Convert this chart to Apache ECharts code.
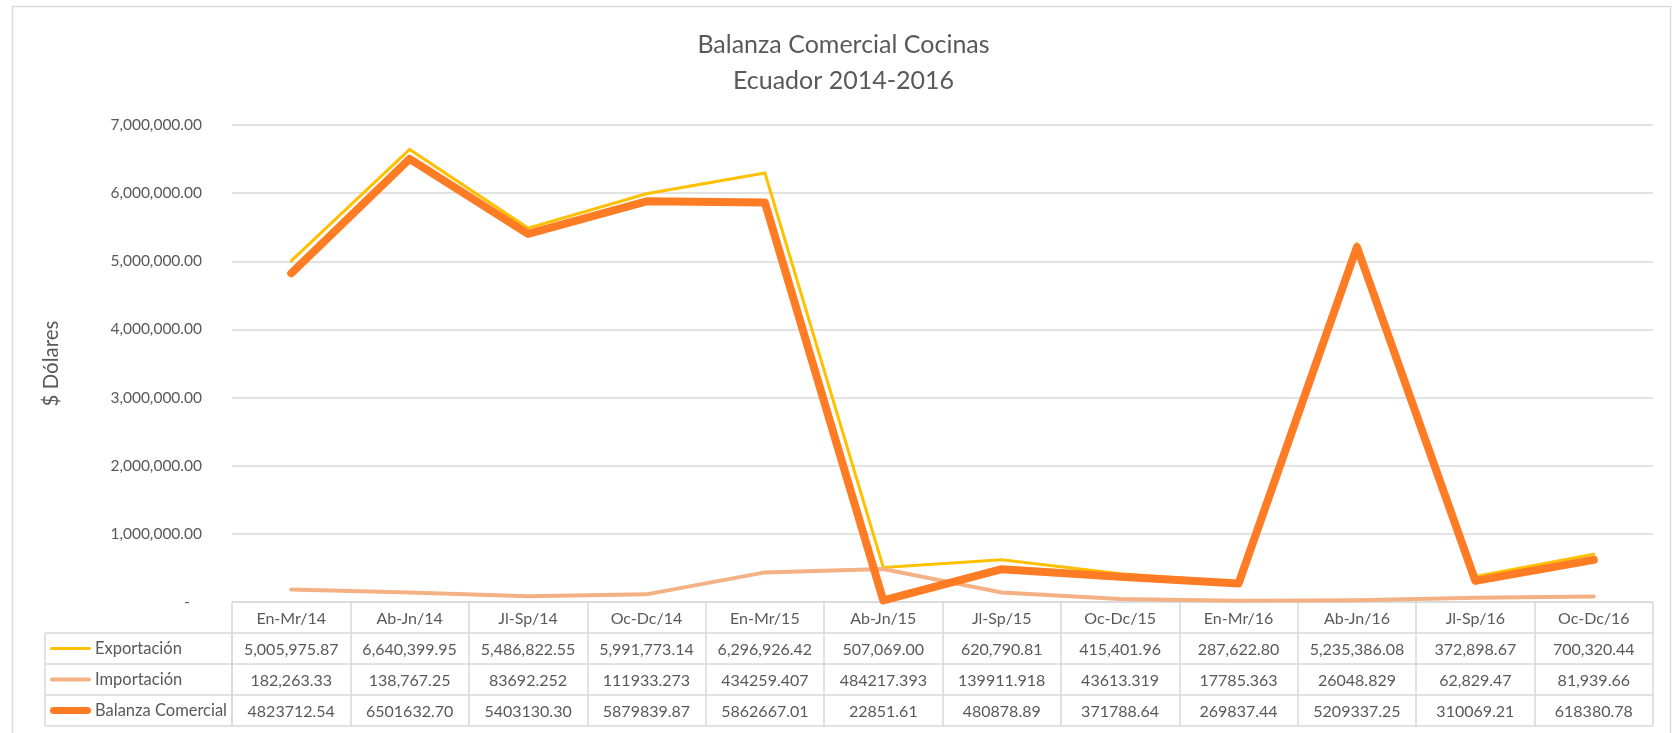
<!DOCTYPE html>
<html><head><meta charset="utf-8">
<script src="https://cdn.jsdelivr.net/npm/echarts@6/dist/echarts.min.js"></script>
<style>html,body{margin:0;padding:0;background:#fff}#c{width:1673px;height:733px}</style>
</head><body><div id="c"></div>
<script>
// ---- data ----
const categories = ['En-Mr/14','Ab-Jn/14','Jl-Sp/14','Oc-Dc/14','En-Mr/15','Ab-Jn/15','Jl-Sp/15','Oc-Dc/15','En-Mr/16','Ab-Jn/16','Jl-Sp/16','Oc-Dc/16'];
const seriesNames = ['Exportación','Importación','Balanza Comercial'];
const exportTexts = ['5,005,975.87','6,640,399.95','5,486,822.55','5,991,773.14','6,296,926.42','507,069.00','620,790.81','415,401.96','287,622.80','5,235,386.08','372,898.67','700,320.44'];
const importTexts = ['182,263.33','138,767.25','83692.252','111933.273','434259.407','484217.393','139911.918','43613.319','17785.363','26048.829','62,829.47','81,939.66'];
const balanceTexts = ['4823712.54','6501632.70','5403130.30','5879839.87','5862667.01','22851.61','480878.89','371788.64','269837.44','5209337.25','310069.21','618380.78'];
const yMin = 0, yMax = 7000000, yInterval = 1000000;
const titleLines = ['Balanza Comercial Cocinas', 'Ecuador 2014-2016'];
const yAxisTitle = '$ Dólares';

const toNum = s => Number(s.replace(/,/g, ''));
const exportValues = exportTexts.map(toNum);
const importValues = importTexts.map(toNum);
const balanceValues = balanceTexts.map(toNum);

const FONT = 'Lato, "Noto Sans", sans-serif';
const TXT = '#595959';
const GRID = '#d9d9d9';
const colors = ['#FFC000', '#F4B183', '#FF7B24'];
const widths = [3, 4, 8];

// table rows: header + 3 series
const tableRows = [categories, exportTexts, importTexts, balanceTexts];
const cellData = [], cellTexts = [];
tableRows.forEach((row, r) => row.forEach((t, c) => { cellData.push([c, r]); cellTexts.push(t); }));

const chart = echarts.init(document.getElementById('c'), null, {renderer: 'canvas'});
chart.setOption({
  animation: false,
  backgroundColor: '#fff',
  textStyle: {fontFamily: FONT},
  graphic: [
    {type: 'rect', shape: {x: 12.5, y: 6.5, width: 1658, height: 800}, style: {fill: 'none', stroke: GRID, lineWidth: 1.5}, silent: true, z: -10},
    {type: 'text', x: 843.5, y: 45, style: {text: titleLines[0], align: 'center', verticalAlign: 'middle', font: '25px ' + FONT, fill: TXT}},
    {type: 'text', x: 843.5, y: 81, style: {text: titleLines[1], align: 'center', verticalAlign: 'middle', font: '25px ' + FONT, fill: TXT}}
  ],
  grid: [
    {left: 232, top: 125, width: 1421, height: 477, containLabel: false},
    {left: 232, top: 602, width: 1421, height: 124, containLabel: false},
    {left: 45, top: 633, width: 187, height: 93, containLabel: false}
  ],
  xAxis: [
    {type: 'category', gridIndex: 0, data: categories, boundaryGap: true,
     axisLine: {show: false}, axisTick: {show: false}, axisLabel: {show: false}, splitLine: {show: false}},
    {type: 'category', gridIndex: 1, data: categories, boundaryGap: true,
     axisLine: {show: false}, axisTick: {show: false}, axisLabel: {show: false},
     splitLine: {show: true, lineStyle: {color: GRID, width: 1.5}}},
    {type: 'category', gridIndex: 2, data: [''], boundaryGap: true,
     axisLine: {show: false}, axisTick: {show: false}, axisLabel: {show: false},
     splitLine: {show: true, lineStyle: {color: GRID, width: 1.5}}}
  ],
  yAxis: [
    {type: 'value', gridIndex: 0, min: yMin, max: yMax, interval: yInterval,
     name: yAxisTitle, nameLocation: 'middle', nameGap: 170,
     nameTextStyle: {fontSize: 20.5, color: TXT, fontFamily: FONT},
     axisLine: {show: false}, axisTick: {show: false},
     axisLabel: {margin: 30, fontSize: 15.5, color: TXT, fontFamily: FONT,
       formatter: v => v === 0 ? '-   ' : v.toLocaleString('en-US', {minimumFractionDigits: 2, maximumFractionDigits: 2})},
     splitLine: {lineStyle: {color: GRID, width: 1.5}}},
    {type: 'category', gridIndex: 1, data: ['', ...seriesNames], inverse: true, boundaryGap: true,
     axisLine: {show: false}, axisTick: {show: false}, axisLabel: {show: false},
     splitLine: {show: true, lineStyle: {color: GRID, width: 1.5}}},
    {type: 'category', gridIndex: 2, data: seriesNames, inverse: true, boundaryGap: true,
     axisLine: {show: false}, axisTick: {show: false},
     axisLabel: {inside: true, margin: 5,
       formatter: (v, i) => `{ic${i}|}{t|${v}}`,
       rich: {
         ic0: {width: 41, height: widths[0], backgroundColor: colors[0], borderRadius: widths[0] / 2},
         ic1: {width: 41, height: widths[1], backgroundColor: colors[1], borderRadius: widths[1] / 2},
         ic2: {width: 41, height: 7, backgroundColor: colors[2], borderRadius: 3.5},
         t: {fontSize: 16.5, color: TXT, fontFamily: FONT, padding: [0, 0, 0, 4]}
       }},
     splitLine: {show: true, lineStyle: {color: GRID, width: 1.5}}}
  ],
  series: [
    ...[exportValues, importValues, balanceValues].map((vals, i) => ({
      name: seriesNames[i], type: 'line', xAxisIndex: 0, yAxisIndex: 0, data: vals,
      symbol: 'none', clip: false, silent: true, z: 3 + i,
      lineStyle: {color: colors[i], width: widths[i], cap: 'round', join: i === 2 ? 'round' : 'miter'}
    })),
    {type: 'custom', xAxisIndex: 1, yAxisIndex: 1, data: cellData, silent: true,
     renderItem: (params, api) => {
       const p = api.coord([api.value(0), api.value(1)]);
       return {type: 'text', x: p[0], y: p[1] + 1,
         style: {text: cellTexts[params.dataIndex], align: 'center', verticalAlign: 'middle',
                 font: '16px ' + FONT, fill: TXT}};
     }}
  ]
});
</script></body></html>
